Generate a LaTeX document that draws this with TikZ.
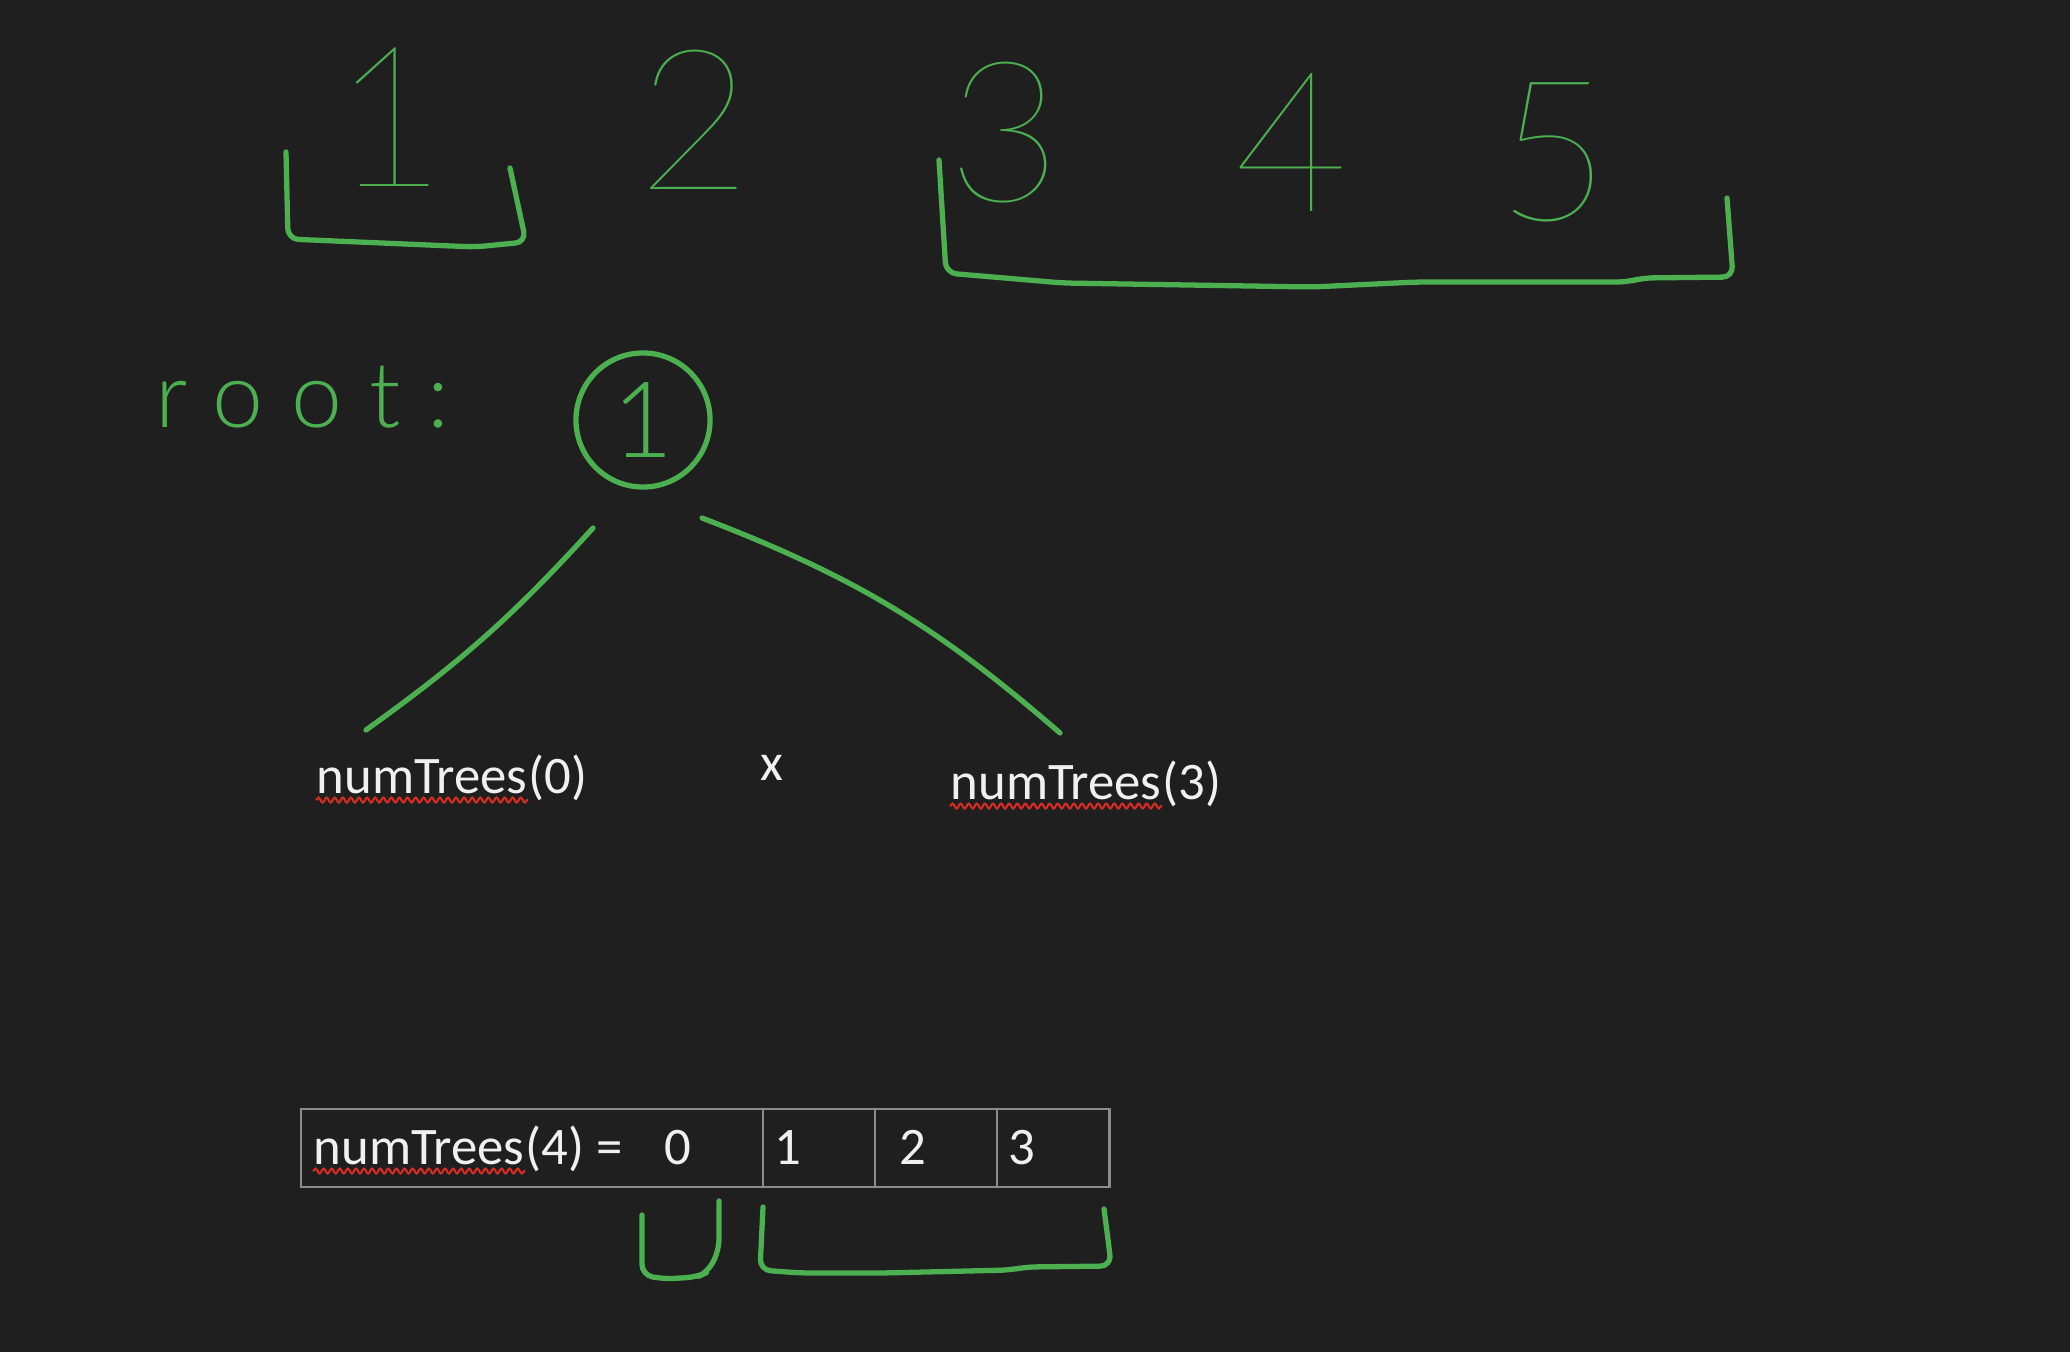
\documentclass[tikz,border=0pt]{standalone}
\usepackage{fontspec}
\setmainfont{Carlito}
\newfontfamily\inkfont{Lato Light}
\newfontfamily\inkthin{Lato Thin}
\usetikzlibrary{decorations.pathmorphing}
\definecolor{board}{RGB}{31,31,31}
\definecolor{ink}{RGB}{76,175,80}
\definecolor{chalk}{RGB}{240,240,240}
\definecolor{grid}{RGB}{140,140,140}
\definecolor{typo}{RGB}{215,45,35}

\begin{document}
\begin{tikzpicture}[x=0.01cm, y=-0.01cm,
    pen/.style={draw=ink, line width=1.5pt, line cap=round, line join=round, rounded corners=3pt},
    digit/.style={text=ink, inner sep=0pt, font=\inkthin\fontsize{56}{56}\selectfont},
    word/.style={text=chalk, inner sep=0pt, anchor=base west, font=\fontsize{15}{17}\selectfont},
    squiggle/.style={draw=typo, line width=0.6pt, decorate, decoration={snake, amplitude=0.7pt, segment length=2.3pt}},
    cell/.style={draw=grid, line width=0.6pt, minimum height=0.78cm, inner sep=0pt, outer sep=0pt, anchor=west}]
    \fill[board] (0,0) rectangle (2070,1352);

    \node[digit] (d1) at (390,117) {1};
    \node[digit] (d2) at (695,120) {2};
    \node[digit] (d3) at (1005,133) {3};
    \node[digit] (d4) at (1292,142) {4};
    \node[digit] (d5) at (1554,152) {5};
    \draw[pen] (286,152) -- (288,239) -- (475,247) -- (526,242) -- (510,168);
    \draw[pen] (939,160) -- (946,273) -- (1063,283) -- (1312,287) -- (1417,282) -- (1628,282) -- (1642,278) -- (1733,277) -- (1727,198);

    \node[text=ink, anchor=base west, inner sep=0pt, font=\inkfont\fontsize{26}{26}\selectfont\addfontfeature{LetterSpace=30}] (l) at (155,428) {root:};
    \node[draw=ink, line width=1.5pt, circle, minimum size=1.34cm, inner sep=0pt, text=ink, font=\inkfont\fontsize{30}{30}\selectfont] (r) at (643,420) {1};

    \node[word] (t0) at (316,793) {numTrees};
    \node[word] (p0) at (t0.base east) {(0)};
    \node[word, anchor=base] (x) at (772,780) {x};
    \node[word] (t3) at (950,799) {numTrees};
    \node[word] (p3) at (t3.base east) {(3)};
    \coordinate (a1) at (593,528);
    \coordinate (a2) at (366,730);
    \coordinate (b1) at (702,518);
    \coordinate (b2) at (1060,733);
    \draw[pen] (a1) to[bend left=6] (a2);
    \draw[pen] (b1) to[bend left=10] (b2);
    \draw[squiggle] ([yshift=-2pt]t0.base west) -- ([yshift=-2pt]t0.base east);
    \draw[squiggle] ([yshift=-2pt]t3.base west) -- ([yshift=-2pt]t3.base east);

    \node[cell, minimum width=4.62cm] (c0) at (301,1148) {};
    \node[cell, minimum width=1.12cm] (c1) at (c0.east) {};
    \node[cell, minimum width=1.22cm] (c2) at (c1.east) {};
    \node[cell, minimum width=1.12cm] (c3) at (c2.east) {};
    \node[word] (t4) at (313,1164) {numTrees};
    \node[word] (p4) at (t4.base east) {(4) =};
    \node[word] (z) at (664,1164) {0};
    \node[word] (n1) at (774,1164) {1};
    \node[word] (n2) at (899,1164) {2};
    \node[word] (n3) at (1008,1164) {3};
    \draw[squiggle] ([yshift=-2pt]t4.base west) -- ([yshift=-2pt]t4.base east);
    \draw[pen] (642,1215) -- (642,1275) -- (664,1279) -- (697,1277) -- (708,1272) -- (719,1250) -- (719,1201);
    \draw[pen] (763,1207) -- (760,1270) -- (801,1273) -- (883,1273) -- (1010,1270) -- (1026,1267) -- (1111,1266) -- (1109,1247) -- (1104,1209);
\end{tikzpicture}
\end{document}
